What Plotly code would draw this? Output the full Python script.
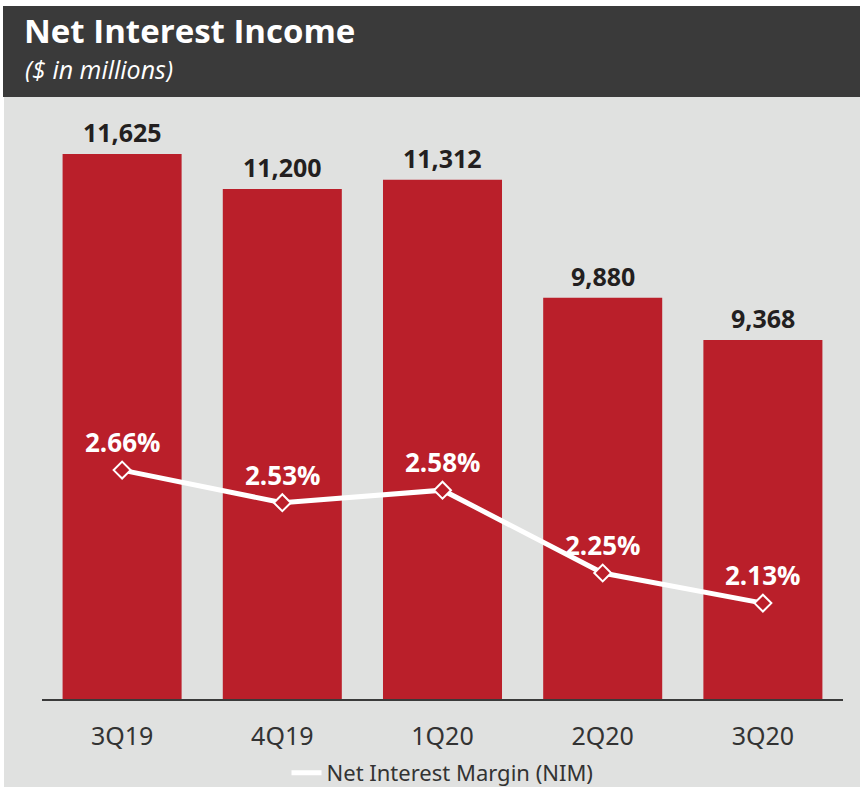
import plotly.graph_objects as go

quarters = ["3Q19", "4Q19", "1Q20", "2Q20", "3Q20"]
nii = [11625, 11200, 11312, 9880, 9368]
nim = [2.66, 2.53, 2.58, 2.25, 2.13]
nii_labels = ["11,625", "11,200", "11,312", "9,880", "9,368"]
nim_labels = ["2.66%", "2.53%", "2.58%", "2.25%", "2.13%"]

RED = "#BA1F2A"
DARK = "#3A3A3A"
GRAY = "#E0E1E0"

L, R, T, B = 42, 17, 105, 88
W, H = 860, 787
pw, ph = W - L - R, H - T - B

def px(x):
    return (x - L) / pw

def py(y):
    return (H - B - y) / ph

fig = go.Figure()
fig.add_trace(go.Bar(x=quarters, y=nii, marker_color=RED, marker_line_width=0,
                     showlegend=False, hoverinfo="skip", yaxis="y"))
fig.add_trace(go.Scatter(x=quarters, y=nim, mode="lines+markers", yaxis="y2",
                         line=dict(color="white", width=5),
                         marker=dict(symbol="diamond", size=13, color=RED,
                                     line=dict(color="white", width=2)),
                         showlegend=False, hoverinfo="skip"))
fig.add_trace(go.Scatter(x=[None], y=[None], mode="lines", yaxis="y2",
                         line=dict(color="white", width=5),
                         name="Net Interest Margin (NIM)"))

ann = []
for q, v, t in zip(quarters, nii, nii_labels):
    ann.append(dict(x=q, y=v, xref="x", yref="y", text=t, showarrow=False,
                    yanchor="bottom", yshift=3,
                    font=dict(family="Open Sans", size=25, color="#231F20", weight="bold")))
for q, v, t in zip(quarters, nim, nim_labels):
    ann.append(dict(x=q, y=v, xref="x", yref="y2", text=t, showarrow=False,
                    yanchor="bottom", yshift=8,
                    font=dict(family="Open Sans", size=26, color="white", weight="bold")))
ann.append(dict(x=px(22), y=py(30), xref="paper", yref="paper", xanchor="left",
                yanchor="middle", height=30, valign="middle",
                text="<b>Net Interest Income</b>", showarrow=False,
                font=dict(family="Open Sans", size=33, color="white")))
ann.append(dict(x=px(23), y=py(69), xref="paper", yref="paper", xanchor="left",
                yanchor="middle", height=26, valign="middle",
                text="<i>($ in millions)</i>", showarrow=False,
                font=dict(family="Open Sans", size=25, color="white")))

shapes = [
    dict(type="rect", xref="paper", yref="paper", x0=px(4), x1=px(862), y0=py(97), y1=py(790),
         fillcolor=GRAY, line_width=0, layer="below"),
    dict(type="rect", xref="paper", yref="paper", x0=px(3), x1=px(862), y0=py(6), y1=py(97),
         fillcolor=DARK, line_width=0, layer="below"),
]

fig.update_layout(
    width=W, height=H,
    margin=dict(l=L, r=R, t=T, b=B, autoexpand=False),
    paper_bgcolor="white", plot_bgcolor="rgba(0,0,0,0)",
    bargap=0.257,
    xaxis=dict(showline=True, linecolor=DARK, linewidth=2, layer="below traces",
               showgrid=False, zeroline=False, ticks="", automargin=False,
               tickfont=dict(family="Noto Sans", size=25, color="#333333"),
               ticklabelstandoff=14),
    yaxis=dict(range=[5012, 5012 + ph / 0.08241], visible=False, showgrid=False, automargin=False),
    yaxis2=dict(range=[1.748, 1.748 + ph / 251.0], overlaying="y", visible=False,
                showgrid=False, automargin=False),
    legend=dict(orientation="h", x=0.5, xanchor="center", y=py(773), yanchor="middle",
                bgcolor="rgba(0,0,0,0)",
                font=dict(family="Noto Sans", size=22, color="#333333")),
    annotations=ann, shapes=shapes,
)

fig.write_html("out.html", config={"displayModeBar": False},
               post_script="document.body.style.margin='0px';document.body.style.overflow='hidden';")
